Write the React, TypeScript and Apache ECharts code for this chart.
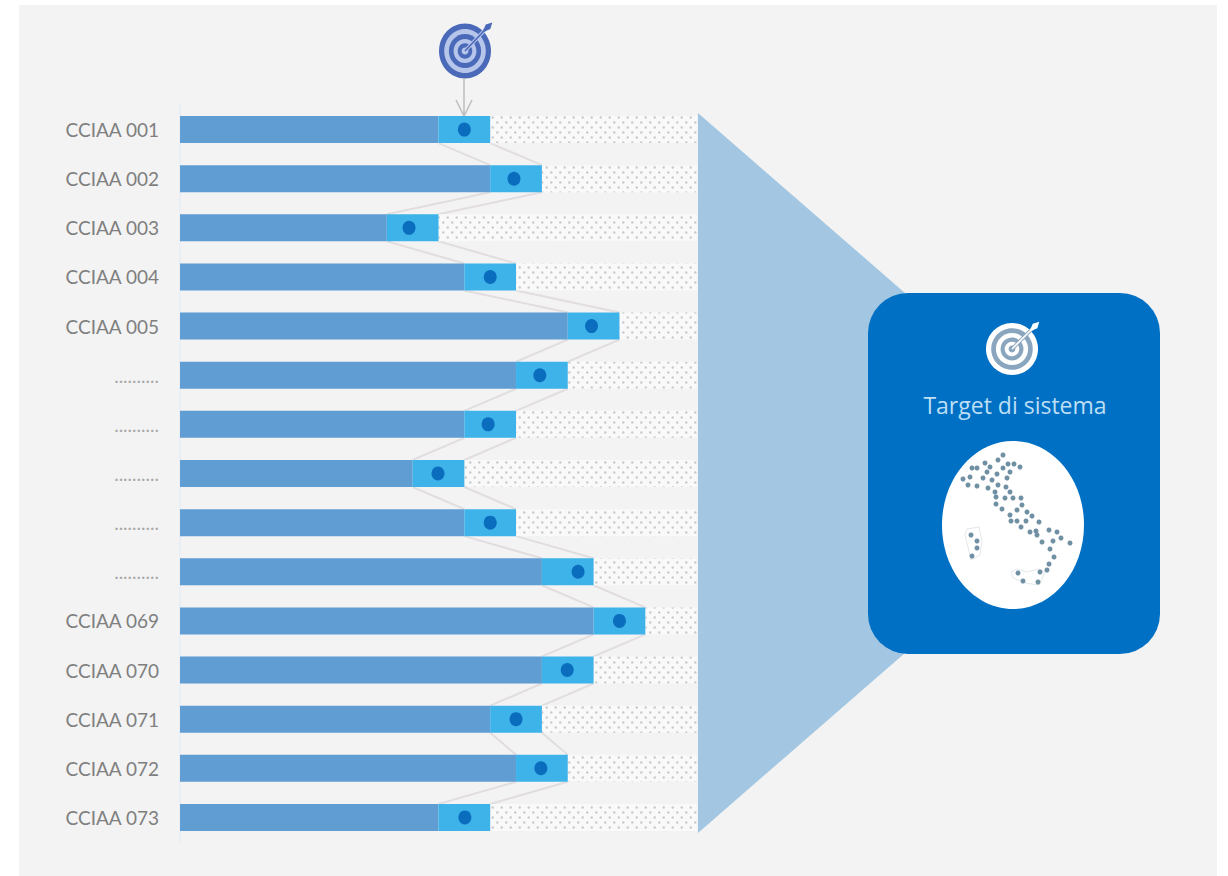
import React, { useEffect, useRef } from "react";
import * as echarts from "echarts";

const categories = [
  "CCIAA 001", "CCIAA 002", "CCIAA 003", "CCIAA 004", "CCIAA 005",
  "..........", "..........", "..........", "..........", "..........",
  "CCIAA 069", "CCIAA 070", "CCIAA 071", "CCIAA 072", "CCIAA 073",
];
const achieved = [50, 60, 40, 55, 75, 65, 55, 45, 55, 70, 80, 70, 60, 65, 50];
const tolerance = [10, 10, 10, 10, 10, 10, 10, 10, 10, 10, 10, 10, 10, 10, 10];
const targets = [55, 64.6, 44.3, 60, 79.6, 69.6, 59.6, 49.9, 60, 77, 85, 74.9, 65, 69.8, 55.1];
const fullScale = 100;

// Dots of the Italy silhouette, offsets from the corner of the group placed over the ellipse.
const italyDots = [
  [68, 20], [63, 25], [50, 28], [55, 32], [42, 33], [37, 33], [73, 29], [79, 29], [85, 32], [68, 33],
  [75, 37], [28, 44], [35, 42], [48, 43], [52, 37], [62, 39], [57, 45], [72, 43], [33, 50], [42, 51],
  [53, 53], [63, 50], [71, 52], [60, 57], [75, 57], [61, 62], [70, 63], [78, 63], [86, 63], [61, 69],
  [87, 70], [67, 74], [82, 75], [92, 77], [75, 80], [97, 81], [76, 86], [82, 86], [91, 86], [104, 87],
  [86, 92], [114, 95], [95, 97], [101, 96], [102, 100], [122, 97], [107, 107], [118, 106], [126, 103],
  [135, 108], [115, 114], [119, 122], [114, 129], [112, 135], [105, 137], [83, 138], [88, 146], [103, 147],
  [36, 100], [42, 106], [42, 113], [37, 121],
];
const sardiniaOutline = [[32, 94], [44, 92], [47, 106], [45, 120], [36, 125], [33, 112], [30, 100], [32, 94]];
const sicilyOutline = [[76, 137], [82, 134], [92, 137], [104, 134], [110, 137], [104, 150], [90, 148], [78, 143], [76, 137]];

const PANEL = "#f3f3f3";

function dottedPattern() {
  const c = document.createElement("canvas");
  c.width = 9;
  c.height = 10;
  const g = c.getContext("2d")!;
  g.fillStyle = "#f9f9f9";
  g.fillRect(0, 0, 9, 10);
  g.fillStyle = "#c6cbce";
  [[2.25, 2.5], [6.75, 7.5]].forEach(([x, y]) => {
    g.beginPath();
    g.arc(x, y, 1.2, 0, Math.PI * 2);
    g.fill();
  });
  return c;
}

// Concentric target with a dart entering from the upper right.
function targetIcon(cx: number, cy: number, rx: number, ry: number, outer: string, inner: string, dart: string) {
  const rings = [1, 0.8, 0.62, 0.44, 0.28, 0.13];
  const tipX = cx + rx * 0.78;
  const tipY = cy - ry * 0.78;
  return {
    type: "group",
    children: [
      ...rings.map((k, i) => ({
        type: "ellipse",
        shape: { cx, cy, rx: rx * k, ry: ry * k },
        style: { fill: i % 2 === 0 ? outer : inner },
      })),
      {
        type: "line",
        shape: { x1: cx, y1: cy, x2: tipX, y2: tipY },
        style: { stroke: inner, lineWidth: 3.5 },
      },
      {
        type: "line",
        shape: { x1: cx, y1: cy, x2: tipX, y2: tipY },
        style: { stroke: dart, lineWidth: 1.6 },
      },
      {
        type: "polygon",
        shape: {
          points: [
            [tipX - 3, tipY + 3],
            [tipX + 0.5, tipY - 5],
            [tipX + 7, tipY - 7],
            [tipX + 5, tipY - 0.5],
          ],
        },
        style: { fill: dart },
      },
    ],
  };
}

export default function App() {
  const ref = useRef<HTMLDivElement>(null);

  useEffect(() => {
    const chart = echarts.init(ref.current!, undefined, { renderer: "svg" });
    const remainder = achieved.map((v, i) => fullScale - v - tolerance[i]);
    const links = achieved.slice(0, -1).map((v, i) => [
      i, v, v + tolerance[i], achieved[i + 1], achieved[i + 1] + tolerance[i + 1],
    ]);
    const marks = targets.map((v, i) => [v, i]);

    chart.setOption({
      animation: false,
      backgroundColor: "#ffffff",
      grid: { left: 180, top: 105, width: 517, height: 737 },
      xAxis: { type: "value", min: 0, max: fullScale, show: false },
      yAxis: {
        type: "category",
        inverse: true,
        data: categories,
        axisTick: { show: false },
        axisLine: { show: true, lineStyle: { color: "#e9eff4", width: 2 } },
        axisLabel: {
          margin: 21,
          color: "#7f7f7f",
          fontFamily: "Lato",
          fontSize: 19,
          // Rows without a name show a paler run of dots.
          formatter: (v: string) => (v.startsWith(".") ? `{gap|${v}}` : v),
          rich: { gap: { color: "#a9a9a9", fontFamily: "Lato", fontSize: 19 } },
        },
      },
      series: [
        {
          type: "bar",
          stack: "row",
          barWidth: 27,
          data: achieved,
          itemStyle: { color: "#5f9dd2" },
          z: 3,
        },
        {
          type: "bar",
          stack: "row",
          barWidth: 27,
          data: tolerance,
          itemStyle: { color: "#3db3ea" },
          z: 3,
        },
        {
          type: "bar",
          stack: "row",
          barWidth: 27,
          data: remainder,
          itemStyle: { color: { image: dottedPattern(), repeat: "repeat" } },
          z: 2,
        },
        {
          type: "custom",
          data: links,
          z: 2,
          silent: true,
          encode: { x: [1, 2, 3, 4], y: 0 },
          renderItem: (_p: unknown, api: any) => {
            const half = 13.5;
            const i = api.value(0);
            const segment = (a: number, b: number) => {
              const p = api.coord([a, i]);
              const q = api.coord([b, i + 1]);
              return {
                type: "line",
                shape: { x1: p[0], y1: p[1] + half, x2: q[0], y2: q[1] - half },
                style: { stroke: "#e2dddf", lineWidth: 2 },
              };
            };
            return {
              type: "group",
              children: [segment(api.value(1), api.value(3)), segment(api.value(2), api.value(4))],
            };
          },
        },
        {
          type: "scatter",
          data: marks,
          symbol: "circle",
          symbolSize: [13, 14],
          itemStyle: { color: "#0b6dbd", opacity: 1 },
          z: 5,
        },
      ],
      graphic: {
        elements: [
          { type: "rect", z: -10, shape: { x: 19, y: 5, width: 1198, height: 871 }, style: { fill: PANEL } },
          targetIcon(465, 51, 26, 27.5, "#4a69b8", "#b6c5ea", "#4a69b8"),
          {
            type: "polyline",
            shape: { points: [[464, 78], [464, 116]] },
            style: { stroke: "#bdbdbd", lineWidth: 1.5, fill: "none" },
          },
          {
            type: "polyline",
            shape: { points: [[456, 100], [464, 116], [472, 100]] },
            style: { stroke: "#bdbdbd", lineWidth: 1.5, fill: "none" },
          },
          {
            type: "polygon",
            shape: { points: [[698, 113], [905, 293], [905, 653], [698, 833]] },
            style: { fill: "#a3c7e2" },
          },
          {
            type: "rect",
            shape: { x: 868, y: 293, width: 292, height: 361, r: 40 },
            style: { fill: "#0070c4" },
          },
          targetIcon(1012, 349, 26, 26, "#ffffff", "#8aa6bf", "#ffffff"),
          {
            type: "text",
            style: {
              x: 1015,
              y: 405,
              text: "Target di sistema",
              fill: "#bcdff6",
              font: '23px "Open Sans"',
              align: "center",
              verticalAlign: "middle",
            },
          },
          {
            type: "ellipse",
            shape: { cx: 1013, cy: 525, rx: 71, ry: 84 },
            style: { fill: "#ffffff" },
          },
          {
            type: "group",
            x: 935,
            y: 435,
            children: [
              ...[sardiniaOutline, sicilyOutline].map((points) => ({
                type: "polyline",
                shape: { points },
                style: { stroke: "#e3e8ea", lineWidth: 1, fill: "none" },
              })),
              ...italyDots.map(([x, y]) => ({
                type: "circle",
                shape: { cx: x, cy: y, r: 2.5 },
                style: { fill: "#6f8fa3" },
              })),
            ],
          },
        ],
      },
    });
    return () => chart.dispose();
  }, []);

  return <div ref={ref} style={{ position: "absolute", left: 0, top: 0, width: 1228, height: 876 }} />;
}
